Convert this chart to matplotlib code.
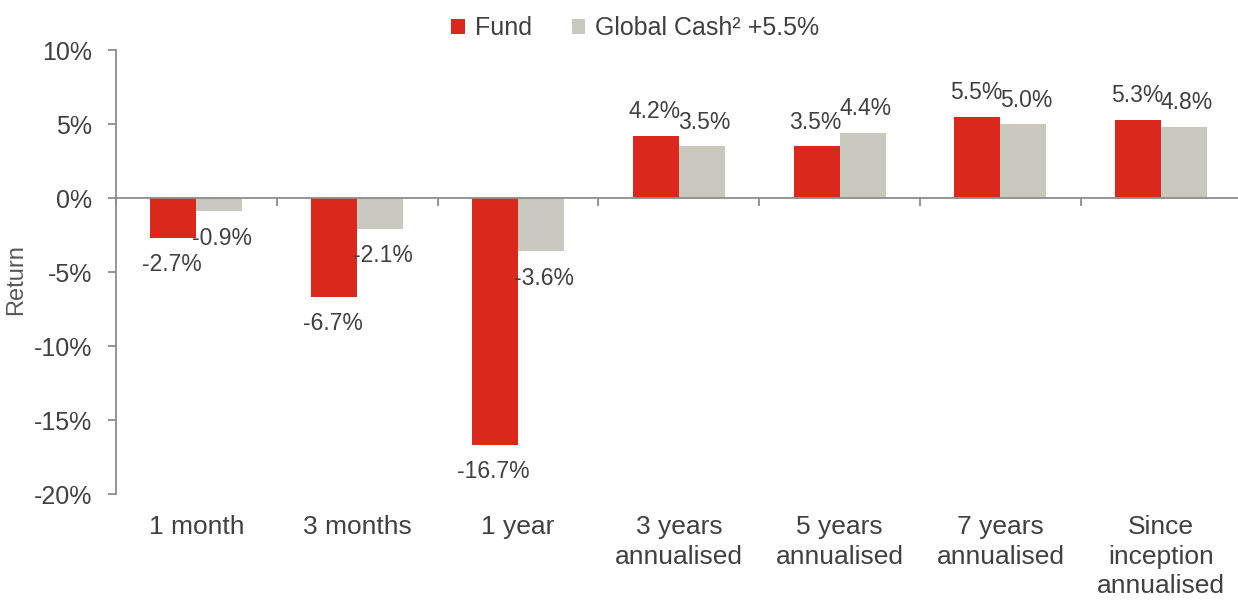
import numpy as np
import matplotlib.pyplot as plt
from matplotlib.ticker import FixedLocator, PercentFormatter

# --- data ---
categories = ['1 month', '3 months', '1 year', '3 years\nannualised',
              '5 years\nannualised', '7 years\nannualised',
              'Since\ninception\nannualised']
fund = [-2.7, -6.7, -16.7, 4.2, 3.5, 5.5, 5.3]
cash = [-0.9, -2.1, -3.6, 3.5, 4.4, 5.0, 4.8]
series_names = ['Fund', 'Global Cash² +5.5%']

red = '#DA291C'
grey = '#C8C8BF'
txt = '#404040'
axis_col = '#8C8C8C'

plt.rcParams['font.family'] = ['Liberation Sans', 'DejaVu Sans']
plt.rcParams['axes.unicode_minus'] = False

fig = plt.figure(figsize=(12.38, 6.02), dpi=100)
ax = fig.add_axes([0.0937, 0.1794, 0.9093, 0.7375])

x = np.arange(len(categories))
w = 0.286
b1 = ax.bar(x - w / 2, fund, w, color=red, label=series_names[0])
b2 = ax.bar(x + w / 2, cash, w, color=grey, label=series_names[1])

# data labels (condensed look in the original, so a touch smaller here)
for bars, vals, shift in ((b1, fund, -1), (b2, cash, 2)):
    for rect, v in zip(bars, vals):
        cx = rect.get_x() + rect.get_width() / 2
        off = 9 if v >= 0 else -11
        ax.annotate(f'{v:.1f}%', (cx, v), xytext=(shift, off),
                    textcoords='offset points', ha='center',
                    va='bottom' if v >= 0 else 'top',
                    fontsize=16.5, color=txt)

ax.set_xlim(-0.5, len(categories) - 0.5)
ax.set_ylim(-20, 10)
ax.set_yticks([-20, -15, -10, -5, 0, 5, 10])
ax.yaxis.set_major_formatter(PercentFormatter(decimals=0))
ax.tick_params(axis='y', labelsize=18, colors=axis_col, labelcolor=txt,
               length=6, width=1.3, pad=11)
fig.text(16 / 1238, 1 - 280 / 602, 'Return', rotation=90, ha='center',
         va='center', fontsize=17, color='#595959')

# x axis line at zero with ticks on category boundaries
ax.spines['bottom'].set_position(('data', 0))
ax.spines['bottom'].set_color(axis_col)
ax.spines['bottom'].set_linewidth(1.3)
ax.spines['left'].set_color(axis_col)
ax.spines['left'].set_linewidth(1.3)
ax.spines['top'].set_visible(False)
ax.spines['right'].set_visible(False)
ax.xaxis.set_major_locator(FixedLocator(np.arange(-0.5, len(categories), 1.0)))
ax.tick_params(axis='x', colors=axis_col, length=6, width=1.3,
               labelbottom=False)

# category labels beneath the plot area
for i, c in enumerate(categories):
    ax.annotate(c, (i, 0), xycoords=('data', 'axes fraction'),
                xytext=(0, -15), textcoords='offset points',
                ha='center', va='top', fontsize=19, color=txt,
                linespacing=1.3, annotation_clip=False)

fig.legend(loc='center', bbox_to_anchor=(0.513, 0.953), ncol=2,
           frameon=False, fontsize=18, labelcolor=txt,
           handlelength=0.55, handleheight=0.55, handletextpad=0.4,
           columnspacing=1.6)

fig.savefig('out.png', dpi=100)
